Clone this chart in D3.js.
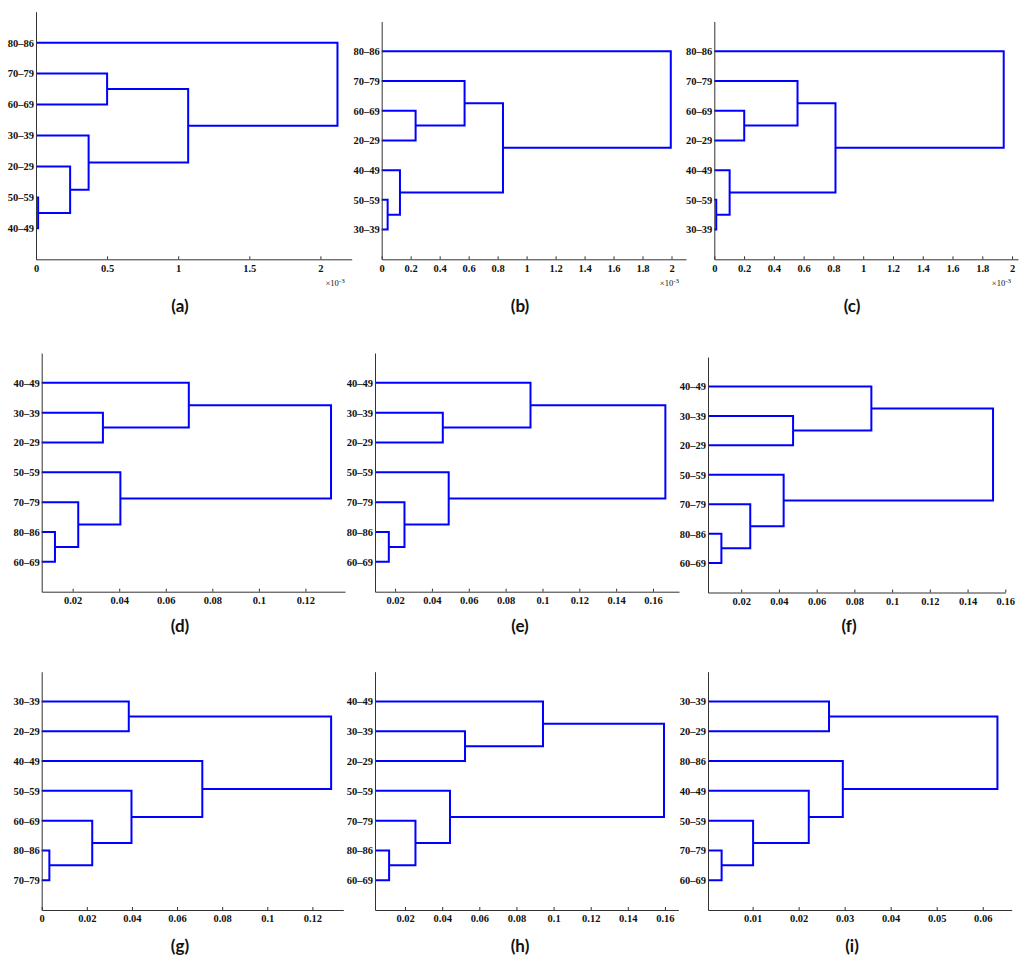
<!DOCTYPE html>
<html><head><meta charset="utf-8">
<script src="https://cdn.jsdelivr.net/npm/d3@7"></script>
<style>body{margin:0;background:#fff}</style>
</head><body>
<svg id="chart" width="1024" height="962"></svg>
<script>
// ---------- DATA ----------
const leavesA = ["80–86","70–79","60–69","30–39","20–29","50–59","40–49"];
const mergesA = [["50–59","40–49",0.015],[0,"20–29",0.24],[1,"30–39",0.37],["70–79","60–69",0.50],[2,3,1.07],[4,"80–86",2.12]];
const ticksA = [0,0.5,1,1.5,2];
const domainA = [0,2.22];

const leavesB = ["80–86","70–79","60–69","20–29","40–49","50–59","30–39"];
const mergesB = [["50–59","30–39",0.041],[0,"40–49",0.126],["60–69","20–29",0.234],[2,"70–79",0.572],[1,3,0.837],[4,"80–86",1.995]];
const ticksB = [0,0.2,0.4,0.6,0.8,1,1.2,1.4,1.6,1.8,2];
const domainB = [0,2.1];

const leavesC = ["80–86","70–79","60–69","20–29","40–49","50–59","30–39"];
const mergesC = [["50–59","30–39",0.013],[0,"40–49",0.103],["60–69","20–29",0.201],[2,"70–79",0.559],[1,3,0.814],[4,"80–86",1.944]];
const ticksC = [0,0.2,0.4,0.6,0.8,1,1.2,1.4,1.6,1.8,2];
const domainC = [0,2.04];

const leavesD = ["40–49","30–39","20–29","50–59","70–79","80–86","60–69"];
const mergesD = [["80–86","60–69",0.0124],[0,"70–79",0.0224],[1,"50–59",0.0405],["30–39","20–29",0.033],[3,"40–49",0.0699],[4,2,0.131]];
const ticksD = [0.02,0.04,0.06,0.08,0.1,0.12];
const domainD = [0.0067,0.137];

const leavesE = ["40–49","30–39","20–29","50–59","70–79","80–86","60–69"];
const mergesE = [["80–86","60–69",0.0166],[0,"70–79",0.0251],[1,"50–59",0.0491],["30–39","20–29",0.0459],[3,"40–49",0.0935],[4,2,0.1667]];
const ticksE = [0.02,0.04,0.06,0.08,0.1,0.12,0.14,0.16];
const domainE = [0.0091,0.1741];

const leavesF = ["40–49","30–39","20–29","50–59","70–79","80–86","60–69"];
const mergesF = [["80–86","60–69",0.0095],[0,"70–79",0.0248],[1,"50–59",0.0425],["30–39","20–29",0.0475],[3,"40–49",0.089],[4,2,0.1535]];
const ticksF = [0.02,0.04,0.06,0.08,0.1,0.12,0.14,0.16];
const domainF = [0.0024,0.16];

const leavesG = ["30–39","20–29","40–49","50–59","60–69","80–86","70–79"];
const mergesG = [["80–86","70–79",0.0034],[0,"60–69",0.0224],[1,"50–59",0.0398],[2,"40–49",0.0712],["30–39","20–29",0.0386],[4,3,0.1283]];
const ticksG = [0,0.02,0.04,0.06,0.08,0.1,0.12];
const domainG = [0,0.1337];

const leavesH = ["40–49","30–39","20–29","50–59","70–79","80–86","60–69"];
const mergesH = [["80–86","60–69",0.0114],[0,"70–79",0.0256],[1,"50–59",0.0442],["30–39","20–29",0.0523],[3,"40–49",0.0943],[4,2,0.1595]];
const ticksH = [0.02,0.04,0.06,0.08,0.1,0.12,0.14,0.16];
const domainH = [0.0038,0.1672];

const leavesI = ["30–39","20–29","80–86","40–49","50–59","70–79","60–69"];
const mergesI = [["70–79","60–69",0.00326],[0,"50–59",0.0101],[1,"40–49",0.0222],[2,"80–86",0.0296],["30–39","20–29",0.0266],[4,3,0.0632]];
const ticksI = [0.01,0.02,0.03,0.04,0.05,0.06];
const domainI = [0.0003,0.0663];

const panelLetters = ["(a)","(b)","(c)","(d)","(e)","(f)","(g)","(h)","(i)"];
const exponentLabels = ["-3","-3","-3",null,null,null,null,null,null];

// ---------- LAYOUT ----------
const panels = [
  {leaves:leavesA, merges:mergesA, ticks:ticksA, domain:domainA, x0:36,    x1:351.7, y0:11.7,  y1:259.3, lx:180, ly:308},
  {leaves:leavesB, merges:mergesB, ticks:ticksB, domain:domainB, x0:381.7, x1:686,   y0:21.5,  y1:259.3, lx:520, ly:308},
  {leaves:leavesC, merges:mergesC, ticks:ticksC, domain:domainC, x0:714.3, x1:1018,  y0:21.5,  y1:259.3, lx:852, ly:308},
  {leaves:leavesD, merges:mergesD, ticks:ticksD, domain:domainD, x0:41.7,  x1:345,   y0:353,   y1:591.7, lx:180, ly:628},
  {leaves:leavesE, merges:mergesE, ticks:ticksE, domain:domainE, x0:375,   x1:679,   y0:353,   y1:591.7, lx:520, ly:628},
  {leaves:leavesF, merges:mergesF, ticks:ticksF, domain:domainF, x0:708,   x1:1005.3,y0:357,   y1:592.5, lx:849, ly:628},
  {leaves:leavesG, merges:mergesG, ticks:ticksG, domain:domainG, x0:41.7,  x1:343.3, y0:671.7, y1:910,   lx:180, ly:948},
  {leaves:leavesH, merges:mergesH, ticks:ticksH, domain:domainH, x0:375,   x1:678.3, y0:671.7, y1:910,   lx:520, ly:948},
  {leaves:leavesI, merges:mergesI, ticks:ticksI, domain:domainI, x0:708,   x1:1011.7,y0:671.7, y1:910,   lx:852, ly:948}
];

const svg = d3.select("#chart");
const serif = "'Liberation Serif','Times New Roman',serif";

panels.forEach((p, pi) => {
  const n = p.leaves.length;
  const x = d3.scaleLinear().domain(p.domain).range([p.x0, p.x1]);
  const y = d3.scaleLinear().domain([0, n + 1]).range([p.y1, p.y0]);
  const g = svg.append("g");

  const leafPos = {};
  p.leaves.forEach((l, i) => { leafPos[l] = {pos: n - i, h: p.domain[0]}; });
  const nodes = [];
  const get = k => (typeof k === "number") ? nodes[k] : leafPos[k];
  p.merges.forEach(([a, b, h]) => {
    const A = get(a), B = get(b);
    nodes.push({pos: (A.pos + B.pos) / 2, h: h});
    g.append("path")
      .attr("d", `M${x(Math.max(A.h, p.domain[0]))},${y(A.pos)}H${x(h)}V${y(B.pos)}H${x(Math.max(B.h, p.domain[0]))}`)
      .attr("fill", "none").attr("stroke", "#0000ff").attr("stroke-width", 2);
  });

  const xAxis = d3.axisBottom(x).tickValues(p.ticks).tickSizeInner(-3).tickSizeOuter(0)
    .tickFormat(v => String(+v.toFixed(4)));
  const ax = g.append("g").attr("transform", `translate(0,${p.y1})`).call(xAxis);
  ax.select(".domain").attr("stroke", "#333");
  ax.selectAll(".tick line").attr("stroke", "#333");
  ax.selectAll(".tick text").attr("y", 5).attr("fill", "#111")
    .style("font-family", serif).style("font-weight", "bold").style("font-size", "10.5px");

  const yAxis = d3.axisLeft(y).tickValues(d3.range(1, n + 1)).tickSize(0)
    .tickFormat(v => p.leaves[n - v]);
  const ay = g.append("g").attr("transform", `translate(${p.x0},0)`).call(yAxis);
  ay.select(".domain").attr("stroke", "#333");
  ay.selectAll(".tick text").attr("x", -2).attr("fill", "#111")
    .style("font-family", serif).style("font-weight", "bold").style("font-size", "10.5px");

  if (exponentLabels[pi]) {
    const t = g.append("text").attr("x", p.x1 - 7).attr("y", p.y1 + 27)
      .attr("text-anchor", "end").attr("fill", "#111")
      .style("font-family", serif).style("font-size", "8.5px");
    t.append("tspan").text("×10");
    t.append("tspan").attr("dy", -3).style("font-size", "7px").text(exponentLabels[pi]);
  }

  svg.append("text").attr("x", p.lx).attr("y", p.ly).attr("text-anchor", "middle")
    .attr("dominant-baseline", "middle").attr("fill", "#111")
    .style("font-family", "Lato, 'Open Sans', sans-serif").style("font-weight", "bold").style("font-size", "17px")
    .text(panelLetters[pi]);
});
</script>
</body></html>
